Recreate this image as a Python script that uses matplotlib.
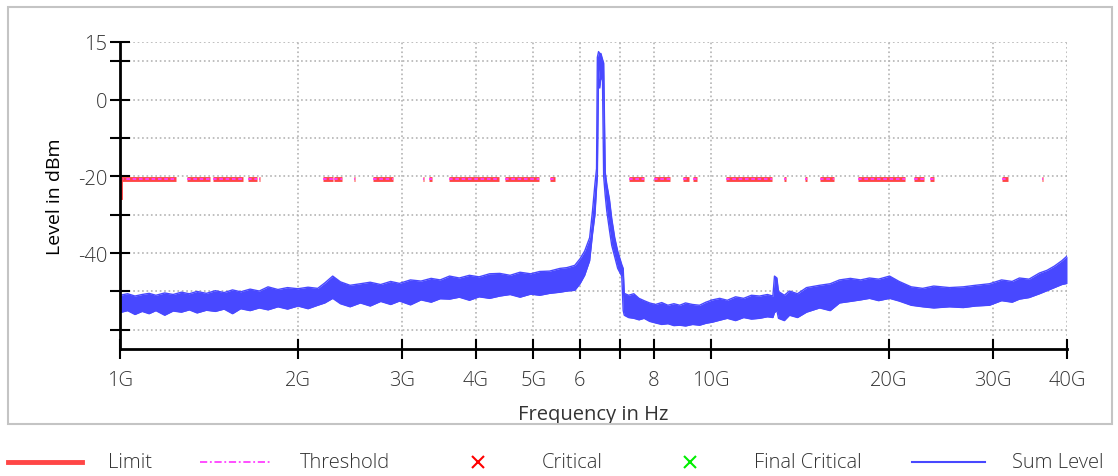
import matplotlib.pyplot as plt
from matplotlib.lines import Line2D
from matplotlib.patches import Rectangle

plt.rcParams['font.family'] = ['Open Sans', 'DejaVu Sans']
plt.rcParams['font.weight'] = 'light'

# Sum Level trace, frequency in GHz with upper/lower envelope in dBm
freq = [1.00, 1.03, 1.06, 1.09, 1.12, 1.15, 1.19, 1.23, 1.27, 1.31, 1.35, 1.40, 1.45,
        1.50, 1.55, 1.60, 1.66, 1.72, 1.78, 1.85, 1.92, 2.00, 2.08, 2.16, 2.22, 2.29,
        2.36, 2.45, 2.55, 2.65, 2.76, 2.87, 2.97, 3.10, 3.23, 3.36, 3.48, 3.61, 3.75,
        3.90, 4.05, 4.22, 4.39, 4.57, 4.75, 4.95, 5.13, 5.33, 5.55, 5.70, 5.88, 6.00,
        6.11, 6.23, 6.30, 6.36, 6.40, 6.42, 6.45, 6.48, 6.51, 6.55, 6.58, 6.62, 6.66,
        6.73, 6.79, 6.87, 6.95, 7.06, 7.10, 7.13, 7.25, 7.40, 7.55, 7.70, 7.87, 8.05,
        8.25, 8.45, 8.65, 8.85, 9.05, 9.30, 9.56, 9.80, 10.05, 10.34, 10.65, 11.0,
        11.35, 11.7, 12.08, 12.45, 12.72, 12.80, 12.92, 13.00, 13.30, 13.57, 14.0,
        14.5, 15.26, 15.9, 16.49, 17.2, 17.9, 18.53, 19.2, 20.04, 20.8, 21.8, 22.8,
        23.8, 25.3, 26.7, 28.0, 29.57, 31.0, 32.3, 33.23, 34.5, 35.93, 37.0, 38.08,
        39.2, 40.0]
level_hi = [-51.0, -50.6, -51.2, -50.8, -50.5, -51.0, -50.4, -50.8, -50.2, -50.6, -50.0,
            -50.5, -49.8, -50.3, -49.6, -50.1, -49.4, -49.9, -48.8, -49.5, -49.0, -49.3,
            -48.9, -49.2, -47.8, -46.0, -47.5, -48.4, -48.0, -47.6, -48.2, -47.4, -47.9,
            -47.0, -47.3, -46.6, -47.0, -46.0, -46.5, -45.8, -46.2, -45.4, -45.3, -45.8,
            -45.0, -45.4, -44.8, -44.7, -44.0, -43.8, -43.2, -41.5, -39.5, -36.0, -29.0,
            -22.0, -18.0, 11.0, 12.5, 12.0, 12.0, 10.5, 9.5, -19.0, -22.0, -26.0, -31.0,
            -36.0, -39.5, -43.0, -44.0, -50.5, -51.0, -50.6, -51.8, -52.4, -53.0, -53.4,
            -52.9, -53.6, -53.2, -53.6, -53.0, -53.4, -53.6, -52.8, -52.2, -51.8, -52.3,
            -51.4, -51.8, -51.0, -51.2, -50.8, -51.2, -46.0, -46.5, -50.0, -51.0, -49.9,
            -50.6, -49.0, -48.4, -48.0, -47.0, -46.6, -47.0, -46.5, -46.8, -46.0, -47.4,
            -48.8, -49.2, -48.6, -49.0, -48.8, -48.4, -48.0, -47.0, -47.4, -46.5, -46.8,
            -45.2, -44.5, -43.4, -42.0, -40.8]
level_lo = [-55.5, -55.0, -56.0, -55.2, -55.8, -55.0, -56.2, -55.1, -55.4, -54.8, -55.6,
            -54.9, -55.2, -54.6, -55.8, -54.5, -55.0, -54.3, -54.8, -54.0, -54.6, -53.8,
            -54.5, -53.6, -53.0, -51.8, -53.2, -54.0, -53.0, -53.8, -52.6, -53.4, -52.5,
            -53.5, -52.2, -52.8, -51.9, -52.0, -51.5, -52.3, -51.4, -51.8, -51.2, -50.8,
            -51.5, -50.7, -51.0, -50.5, -50.2, -49.9, -49.7, -48.0, -45.8, -42.0, -35.0,
            -30.0, -23.0, -20.0, 8.0, 3.0, 6.0, 5.0, -20.0, -25.0, -29.0, -34.0, -38.0,
            -41.0, -44.0, -46.0, -55.0, -56.2, -56.8, -57.0, -57.4, -57.0, -57.8, -58.2,
            -58.6, -58.4, -58.9, -58.8, -59.0, -58.6, -58.8, -58.3, -58.0, -57.5, -57.0,
            -57.6, -56.8, -57.2, -57.0, -56.6, -56.8, -55.5, -55.0, -57.0, -57.6, -56.2,
            -56.8, -55.4, -54.3, -55.0, -53.0, -52.6, -52.2, -51.8, -52.4, -51.8, -52.5,
            -53.6, -54.0, -54.3, -54.0, -54.2, -53.8, -53.6, -52.4, -52.8, -52.0, -51.6,
            -50.6, -49.8, -49.0, -48.2, -47.9]

# Limit / threshold segments (GHz) at the limit level
limit_level = -20.7
limit_start = [1.000, 1.298, 1.436, 1.646, 1.718, 2.204, 2.301, 2.487, 2.677, 3.253,
               3.330, 3.599, 4.476, 5.333, 7.254, 7.995, 8.95, 9.305, 10.58, 13.27,
               14.39, 15.31, 17.69, 22.0, 23.5, 31.10, 36.35]
limit_end = [1.244, 1.420, 1.614, 1.704, 1.724, 2.292, 2.373, 2.497, 2.894, 3.266,
             3.369, 4.372, 5.109, 5.438, 7.69, 8.508, 9.16, 9.45, 12.66, 13.37,
             14.50, 16.11, 21.32, 22.96, 23.87, 31.84, 36.5]
limit_drop = [-25.3, -20.7]

xticks = [1, 2, 3, 4, 5, 6, 7, 8, 10, 20, 30, 40]
xtick_labels = ['1G', '2G', '3G', '4G', '5G', '6', '', '8', '10G', '20G', '30G', '40G']
yticks = [15, 10, 0, -10, -20, -30, -40, -50, -60]
ytick_labels = ['15', '', '0', '', '-20', '', '-40', '', '']

blue = '#4848ff'
red = '#ff4646'
magenta = '#ff40ff'
text_gray = '#333333'

fig = plt.figure(figsize=(11.18, 4.77), dpi=100)
ax = fig.add_axes([120 / 1118, 1 - 350 / 477, 947 / 1118, 307 / 477])

# trace
ax.fill_between(freq, level_lo, level_hi, color=blue, lw=0)
ax.plot(freq, level_hi, color=blue, lw=1)
ax.plot(freq, level_lo, color=blue, lw=1)

# limit + threshold
ax.hlines([limit_level] * len(limit_start), limit_start, limit_end, color=red, lw=3.5)
ax.hlines([limit_level] * len(limit_start), limit_start, limit_end, color=magenta,
          lw=1.3, linestyles=(0, (2, 1.5)))
ax.plot([1.0, 1.0], limit_drop, color=red, lw=3.5)
ax.plot([1.0, 1.0], limit_drop, color=magenta, lw=1.3, ls=(0, (2, 1.5)))

ax.set_xscale('log')
ax.set_xlim(1, 40)
ax.set_ylim(-65, 15)
ax.set_xticks(xticks)
ax.set_xticklabels(xtick_labels)
ax.xaxis.set_minor_locator(plt.NullLocator())
ax.set_yticks(yticks)
ax.set_yticklabels(ytick_labels)

ax.grid(True, color='#b4b4b4', ls=':', lw=1.2)
ax.set_axisbelow(True)
for s in ['top', 'right']:
    ax.spines[s].set_visible(False)
for s in ['left', 'bottom']:
    ax.spines[s].set_linewidth(2)
ax.tick_params(axis='both', direction='inout', length=14, width=1.5,
               labelsize=14.5, labelcolor=text_gray)
ax.tick_params(axis='x', pad=8)
ax.tick_params(axis='y', pad=2)

ax.set_xlabel('Frequency in Hz', fontsize=14.5, color=text_gray, labelpad=10)
ax.set_ylabel('Level in dBm', fontsize=14, color='black', labelpad=10,
              fontweight='normal')

# outer border
fig.add_artist(Rectangle((8 / 1118, 1 - 425 / 477), 1104 / 1118, 417 / 477,
                         transform=fig.transFigure, fill=False,
                         edgecolor='#c4c4c4', lw=1.5))

# legend row
ly = 1 - 463 / 477
fig.add_artist(Line2D([8 / 1118, 82 / 1118], [ly, ly], color=red, lw=3.5))
fig.add_artist(Line2D([200 / 1118, 270 / 1118], [ly, ly], color=magenta, lw=1.3,
                      ls=(0, (4, 1.5, 1, 1.5))))
fig.add_artist(Line2D([478 / 1118], [ly], color='red', marker='x', ms=9, mew=1.5, ls='none'))
fig.add_artist(Line2D([690 / 1118], [ly], color='#00ee00', marker='x', ms=9, mew=1.5, ls='none'))
fig.add_artist(Line2D([912 / 1118, 985 / 1118], [ly, ly], color=blue, lw=1.5))
legend_x = [108, 300, 542, 754, 1012]
legend_labels = ['Limit', 'Threshold', 'Critical', 'Final Critical', 'Sum Level']
for x, lab in zip(legend_x, legend_labels):
    fig.text(x / 1118, ly, lab, fontsize=14.5, color=text_gray, va='center', ha='left')

fig.savefig('out.png', dpi=100)
